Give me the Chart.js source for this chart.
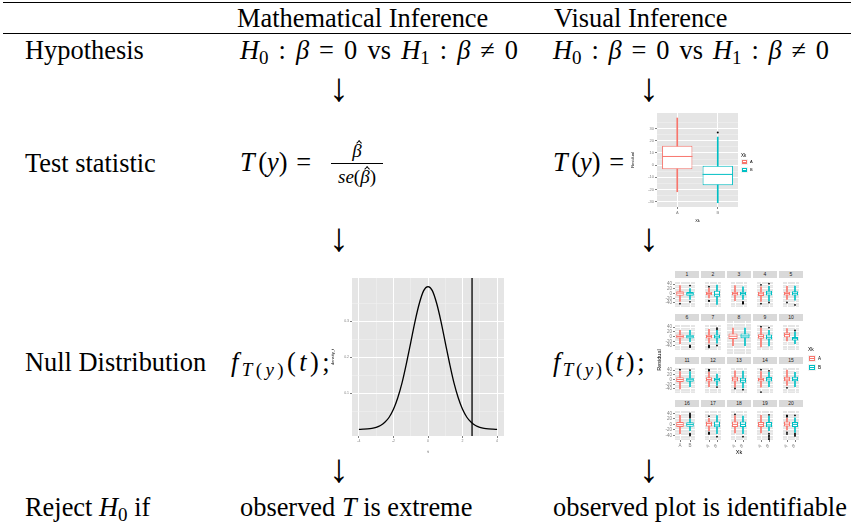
<!DOCTYPE html>
<html><head><meta charset="utf-8">
<script src="https://cdn.jsdelivr.net/npm/chart.js"></script>
<style>
html,body{margin:0;padding:0;background:#fff}
#page{position:relative;width:851px;height:531px;overflow:hidden;font-family:"Liberation Serif","Times New Roman",serif;color:#000}
.t{position:absolute;font-size:26.4px;line-height:1;white-space:nowrap}
.i{font-style:italic}
.sub{font-size:0.72em;position:relative;top:0.28em;line-height:0}
.op{margin:0 0.24em}
.sp{display:inline-block;width:0.25em}
.rule{position:absolute;left:3px;width:848px;height:1px;background:#000}
.arrow{position:absolute;font-size:40px;line-height:1;transform:translateX(-50%);font-family:"Liberation Serif",serif}
canvas{position:absolute}
.strip{position:absolute;background:#d9d9d9;font-family:"Liberation Sans",Arial,sans-serif;font-size:5px;line-height:7px;height:7px;color:#1a1a1a;text-align:center}
.hat{position:relative;display:inline-block}
.hat .h{position:absolute;left:0.26em;top:0.02em;width:0.17em;height:0.17em;border-left:1px solid #000;border-top:1px solid #000;transform:rotate(45deg)}
.key{position:absolute;background:#f2f2f2}
.key .bx{position:absolute;background:#fff;border:1px solid}
.key .md{position:absolute;height:1px}
.lbl{position:absolute;font-family:"Liberation Sans",Arial,sans-serif;line-height:1;white-space:nowrap;color:#000}
</style></head>
<body>
<div id="page">
<div class="rule" style="top:2px"></div>
<div class="rule" style="top:33px"></div>

<div class="t" style="left:237px;top:5px">Mathematical Inference</div>
<div class="t" style="left:554px;top:5px">Visual Inference</div>

<div class="t" style="left:25px;top:37px">Hypothesis</div>
<div class="t fit" data-w="278" style="left:240px;top:37px"><span class="i">H</span><span class="sub">0</span><span class="op">:</span><span class="i">β</span><span class="op">=</span>0<span class="sp"></span>vs<span class="sp"></span><span class="i">H</span><span class="sub">1</span><span class="op">:</span><span class="i">β</span><span class="op">≠</span>0</div>
<div class="t fit" data-w="276" style="left:553px;top:37px"><span class="i">H</span><span class="sub">0</span><span class="op">:</span><span class="i">β</span><span class="op">=</span>0<span class="sp"></span>vs<span class="sp"></span><span class="i">H</span><span class="sub">1</span><span class="op">:</span><span class="i">β</span><span class="op">≠</span>0</div>

<div class="arrow" style="left:339px;top:68px">↓</div>
<div class="arrow" style="left:649px;top:68px">↓</div>

<div class="t" style="left:25px;top:150px">Test statistic</div>
<div class="t fit" data-w="80" style="left:240px;top:149px"><span class="i">T</span><span class="sp" style="width:1px"></span>(<span class="i">y</span>)<span class="op">=</span></div>
<div class="t" style="left:331px;top:141px;width:52px;text-align:center;font-size:19px"><span class="hat i">β<span class="h"></span></span></div>
<div style="position:absolute;left:331px;top:163px;width:52px;height:1px;background:#000"></div>
<div class="t" style="left:331px;top:167px;width:52px;text-align:center;font-size:19px"><span class="i">se</span>(<span class="hat i">β<span class="h"></span></span>)</div>
<div class="t fit" data-w="80" style="left:553px;top:149px"><span class="i">T</span><span class="sp" style="width:1px"></span>(<span class="i">y</span>)<span class="op">=</span></div>

<div class="arrow" style="left:339px;top:218px">↓</div>
<div class="arrow" style="left:649px;top:218px">↓</div>

<div class="t" style="left:25px;top:349px">Null Distribution</div>
<div class="t lsfit" data-w="102" style="left:231px;top:349px"><span class="i">f</span><span class="sub"><span class="i">T</span>(<span class="i">y</span>)</span>(<span class="i">t</span>);</div>
<div class="t lsfit" data-w="94" style="left:553px;top:349px"><span class="i">f</span><span class="sub"><span class="i">T</span>(<span class="i">y</span>)</span>(<span class="i">t</span>);</div>

<div class="arrow" style="left:339px;top:449px">↓</div>
<div class="arrow" style="left:649px;top:449px">↓</div>

<div class="t" style="left:25px;top:494px">Reject <span class="i">H</span><span class="sub">0</span> if</div>
<div class="t" style="left:240px;top:494px">observed <span class="i">T</span> is extreme</div>
<div class="t" style="left:553px;top:494px">observed plot is identifiable</div>
</div>

<script>
// ---------------- data ----------------
// null distribution curve
const densityX = [-4,-3.75,-3.5,-3.25,-3,-2.75,-2.5,-2.25,-2,-1.75,-1.5,-1.25,-1,-0.75,-0.5,-0.25,0,0.25,0.5,0.75,1,1.25,1.5,1.75,2,2.25,2.5,2.75,3,3.25,3.5,3.75,4];
const densityY = [0.0004,0.0008,0.0015,0.003,0.006,0.011,0.02,0.034,0.056,0.088,0.13,0.183,0.241,0.3,0.35,0.385,0.396,0.385,0.35,0.3,0.241,0.183,0.13,0.088,0.056,0.034,0.02,0.011,0.006,0.003,0.0015,0.0008,0.0004];
const observedT = 2.55;
const densityXRange = [-4.4, 4.4];
const densityYRange = [-0.018, 0.42];
const densityXTicks = [-4,-3,-2,-1,0,1,2,3,4];
const densityYTicks = [0.05,0.1,0.15,0.2,0.25,0.3,0.35];

// observed boxplot (test statistic)
const groups = ['A','B'];
const obsLow  = [-21.8, -30.8];
const obsQ1   = [-3.3, -16.4];
const obsMed  = [7.1, -7.6];
const obsQ3   = [15.9, 0.0];
const obsHigh = [38.6, 23.0];
const obsOutA = [];
const obsOutB = [26.8];
const obsYRange = [-34.3, 42.7];
const obsYTicks = [-30,-25,-20,-15,-10,-5,0,5,10,15,20,25,30,35];

// lineup of 20 panels
const panelIds = ['1','2','3','4','5','6','7','8','9','10','11','12','13','14','15','16','17','18','19','20'];
const aLow  = [-33,-19,-30,-33,-25,-30,-28,-30,-44,-19,-40,-30,-32,-32,-25,-34,-23,-31,-31,-20];
const aQ1   = [-9,-7.5,-8.5,-10.7,-8.5,-8.5,-8.5,-8.5,-9.6,-3,-10.7,-8.5,-8.5,-8.5,-7.5,-9.6,-7.5,-9.6,-9.6,-7.5];
const aMed  = [2,0,0,-1,0,0,0,0,0,8.5,0,0,2,0,2,-1,3,0,-1,1];
const aQ3   = [10,7.5,7.5,7.5,7.5,8.5,7.5,8.5,9.6,17,9.6,9.6,12,7.5,12,8.5,10.7,10.7,8.5,10.7];
const aHigh = [34,23,34,29,31,26,31,26,36,34,34,31,37,34,40,33,22,32,33,22];
const aOut  = [[-43],[29,-30,-32],[],[37,-43],[-38],[],[-38,-42,-46],[],[42],[],[42],[37,40,42],[-38],[42,-53],[-35],[],[30,-29,-32,-35],[37],[],[28,31,33,-29,-35]];
const bLow  = [-25,-46,-25,-31,-28,-22,-28,-30,-40,-30,-30,-25,-35,-30,-30,-23,-34,-34,-23,-29];
const bQ1   = [-9,-14,-8.5,-8.5,-8.5,-8.5,-8.5,-6.4,-12,-17,-9.6,-8.5,-14,-8.5,-7.5,-8.5,-10.7,-9.6,-10.7,-9.6];
const bMed  = [-1,-3,0,2,1,-1,-1,1,-3,-7.5,-1,0,-3,2,1,0,-2,0,-2,0];
const bQ3   = [7,12,7.5,12,9.6,7.5,8.5,8.5,8.5,0,7.5,7.5,7.5,10.7,12,7.5,10.7,10.7,8.5,8.5];
const bHigh = [21,36,29,31,32,26,26,26,26,20,34,23,36,31,31,19,32,30,30,24];
const bOut  = [[34,-35],[],[-35,-38,-41,-43],[42,-38],[-48],[-38,-41,-45],[36,31,-38],[],[38],[26],[40],[-32],[-43],[37],[],[24,28,32,36,40,-34,-37,-41],[-45],[-45],[35,-34,-40,-45,-50,-55],[33,-34,-38,-42]];
const lineupYRange = [-57, 49];
const lineupYTicks = [-50,-40,-30,-20,-10,0,10,20,30,40];

// ---------------- text width fitting (math spacing) ----------------
document.querySelectorAll('.fit').forEach(el => {
  const target = parseFloat(el.dataset.w);
  const w = el.getBoundingClientRect().width;
  const ops = el.querySelectorAll('.op'), sps = el.querySelectorAll('.sp');
  const slots = ops.length * 2 + sps.length;
  if (slots && target > w) {
    const add = (target - w) / slots;
    ops.forEach(o => { const m = parseFloat(getComputedStyle(o).marginLeft); o.style.margin = '0 ' + (m + add) + 'px'; });
    sps.forEach(s => { const ww = s.getBoundingClientRect().width; s.style.width = (ww + add) + 'px'; });
  }
});
document.querySelectorAll('.lsfit').forEach(el => {
  const target = parseFloat(el.dataset.w);
  const w = el.getBoundingClientRect().width;
  const n = el.textContent.length;
  if (n > 0 && target > w) el.style.letterSpacing = ((target - w) / n) + 'px';
});

// ---------------- styling ----------------
Chart.defaults.font.family = '"Liberation Sans", Arial, sans-serif';
Chart.defaults.color = '#7f7f7f';
const RED = '#F8766D', CYAN = '#00BFC4', PANEL = '#E5E5E5', MINOR = '#F2F2F2', GREY = '#7f7f7f';
const colors = [RED, CYAN];

const panelBg = { id:'panelBg', beforeDraw(chart){ const a = chart.chartArea, c = chart.ctx; c.save(); c.fillStyle = PANEL; c.fillRect(a.left, a.top, a.right - a.left, a.bottom - a.top); c.restore(); } };

function mk(left, top, w, h){
  const c = document.createElement('canvas');
  c.width = w; c.height = h;
  c.style.left = left + 'px'; c.style.top = top + 'px';
  c.style.width = w + 'px'; c.style.height = h + 'px';
  document.getElementById('page').appendChild(c);
  return c;
}
function txt(cls, html, left, top, size, extra){
  const d = document.createElement('div');
  d.className = cls; d.innerHTML = html;
  d.style.left = left + 'px'; d.style.top = top + 'px'; d.style.fontSize = size + 'px';
  if (extra) Object.assign(d.style, extra);
  document.getElementById('page').appendChild(d);
  return d;
}
function key(left, top, w, h, col){
  const k = document.createElement('div');
  k.className = 'key';
  Object.assign(k.style, {left:left+'px', top:top+'px', width:w+'px', height:h+'px'});
  const bx = document.createElement('div'); bx.className = 'bx';
  Object.assign(bx.style, {left:'1px', top:'1px', width:(w-4)+'px', height:(h-4)+'px', borderColor:col});
  const md = document.createElement('div'); md.className = 'md';
  Object.assign(md.style, {left:'1px', top:Math.floor(h/2)+'px', width:(w-2)+'px', background:col});
  k.appendChild(bx); k.appendChild(md);
  document.getElementById('page').appendChild(k);
}

// ---------------- density plot ----------------
const isEven = c => c.tick && c.tick.value % 2 === 0;
const isTenth = c => c.tick && Math.abs(c.tick.value*10 - Math.round(c.tick.value*10)) < 1e-6;
new Chart(mk(330, 272, 180, 182), {
  type: 'line',
  data: { datasets: [
    { data: densityX.map((x, i) => ({x, y: densityY[i]})), borderColor:'#000', borderWidth:1.3, pointRadius:0, cubicInterpolationMode:'monotone' },
    { data: [{x:observedT, y:densityYRange[0]}, {x:observedT, y:densityYRange[1]}], borderColor:'#000', borderWidth:1.3, pointRadius:0 }
  ]},
  options: {
    responsive:false, animation:false, events:[], devicePixelRatio:1,
    layout:{ padding:{ top:6, right:6, left:0, bottom:0 } },
    plugins:{ legend:{display:false}, tooltip:{enabled:false} },
    scales:{
      x:{ type:'linear', min:densityXRange[0], max:densityXRange[1],
        afterBuildTicks: s => { s.ticks = densityXTicks.map(v => ({value:v})); },
        afterFit: s => { s.height = 18; },
        grid:{ color: c => isEven(c) ? '#fff' : MINOR, lineWidth: c => isEven(c) ? 1 : 0.5,
               tickLength:2, tickColor: c => isEven(c) ? GREY : 'rgba(0,0,0,0)' },
        border:{display:false},
        ticks:{ font:{size:3.5}, padding:1, maxRotation:0, autoSkip:false, callback: v => (v % 2 === 0 ? String(v) : '') },
        title:{ display:true, text:'t', font:{size:4}, padding:0, color:'#000' } },
      y:{ type:'linear', min:densityYRange[0], max:densityYRange[1],
        afterBuildTicks: s => { s.ticks = densityYTicks.map(v => ({value:v})); },
        afterFit: s => { s.width = 22; },
        grid:{ color: c => isTenth(c) ? '#fff' : MINOR, lineWidth: c => isTenth(c) ? 1 : 0.5,
               tickLength:2, tickColor: c => isTenth(c) ? GREY : 'rgba(0,0,0,0)' },
        border:{display:false},
        ticks:{ font:{size:3.5}, padding:1, autoSkip:false, callback: v => (Math.abs(v*10 - Math.round(v*10)) < 1e-6 ? v.toFixed(1) : '') },
        title:{ display:true, text:'density_t', font:{size:4}, padding:0, color:'#000' } }
    }
  },
  plugins:[panelBg]
});

// ---------------- boxplot builder ----------------
function boxChart(canvas, o){
  const outliers = [...o.outA.map(y => ({x:'A', y})), ...o.outB.map(y => ({x:'B', y}))];
  const major = v => Math.abs(v % o.majorStep) < 1e-6;
  return new Chart(canvas, {
    type:'bar',
    data:{ labels: groups, datasets:[
      { type:'bar', data: o.low.map((l, i) => [l, o.high[i]]), backgroundColor: colors, borderWidth:0, barThickness: o.whisker, grouped:false, order:3 },
      { type:'bar', data: o.q1.map((q, i) => [q, o.q3[i]]), backgroundColor:'#fff', borderColor: colors, borderWidth: o.bw, borderSkipped:false, barPercentage:0.75, categoryPercentage:1, grouped:false, order:2 },
      { type:'line', data: o.med, showLine:false, pointStyle:'line', pointBorderColor: colors, pointBorderWidth: o.bw,
        pointRadius: c => c.chart.scales.x.width / groups.length * 0.75 / 2, order:1 },
      { type:'line', data: outliers, showLine:false, pointStyle:'circle', pointRadius:o.outR, pointBackgroundColor:'#000', pointBorderWidth:0, order:0 }
    ]},
    options:{
      responsive:false, animation:false, events:[], devicePixelRatio:1,
      layout:{ padding: o.pad },
      plugins:{ legend:{display:false}, tooltip:{enabled:false} },
      scales:{
        x:{ type:'category', offset:true,
          afterFit: s => { s.height = o.xH; },
          grid:{ color:'#fff', lineWidth:1, offset:false, drawTicks:o.showX, tickLength:2, tickColor:GREY },
          border:{display:false},
          ticks:{ display:o.showX, font:{size:o.fs}, padding:1, color:GREY },
          title:{ display: !!o.xTitle, text:o.xTitle || '', font:{size:o.fs}, padding:0, color:'#000' } },
        y:{ type:'linear', min:o.yr[0], max:o.yr[1],
          afterBuildTicks: s => { s.ticks = o.yt.map(v => ({value:v})); },
          afterFit: s => { s.width = o.yW; },
          grid:{ color: c => (c.tick && major(c.tick.value)) ? '#fff' : MINOR,
                 lineWidth: c => (c.tick && major(c.tick.value)) ? 1 : 0.5,
                 drawTicks:o.showY, tickLength:2,
                 tickColor: c => (c.tick && major(c.tick.value)) ? GREY : 'rgba(0,0,0,0)' },
          border:{display:false},
          ticks:{ display:o.showY, font:{size:o.fs}, padding:1, autoSkip:false, color:GREY,
                  callback: v => (major(v) ? String(v) : '') },
          title:{ display: !!o.yTitle, text:o.yTitle || '', font:{size:o.fs}, padding:0, color:'#000' } }
      }
    },
    plugins:[panelBg]
  });
}

// ---------------- observed boxplot ----------------
boxChart(mk(630, 108, 150, 115), {
  low:obsLow, q1:obsQ1, med:obsMed, q3:obsQ3, high:obsHigh, outA:obsOutA, outB:obsOutB,
  yr:obsYRange, yt:obsYTicks, majorStep:10, showX:true, showY:true, xH:16, yW:27,
  pad:{top:5, right:42, left:0, bottom:0}, fs:4, whisker:1, bw:1, outR:1,
  xTitle:'Xk', yTitle:'Residual'
});
txt('lbl', 'Xk', 741, 154, 4.5);
key(741, 159, 7, 6, RED);  txt('lbl', 'A', 750, 160, 4);
key(741, 167, 7, 6, CYAN); txt('lbl', 'B', 750, 168, 4);

// ---------------- lineup ----------------
const colLeft = [675, 701, 727, 753, 779];
const rowTop = [278, 321, 364, 407];
const PW = 24, PH = 33;
for (let p = 0; p < 20; p++){
  const c = p % 5, r = Math.floor(p / 5);
  const showY = c === 0, showX = r === 3;
  const yW = showY ? 20 : 0, xH = showX ? 9 : 0;
  boxChart(mk(colLeft[c] - yW, rowTop[r], PW + yW, PH + xH), {
    low:[aLow[p], bLow[p]], q1:[aQ1[p], bQ1[p]], med:[aMed[p], bMed[p]], q3:[aQ3[p], bQ3[p]], high:[aHigh[p], bHigh[p]],
    outA:aOut[p], outB:bOut[p], yr:lineupYRange, yt:lineupYTicks, majorStep:20,
    showX, showY, xH, yW, pad:{top:0, right:0, left:0, bottom:0}, fs:4.5, whisker:1, bw:1, outR:0.9
  });
  const s = document.createElement('div');
  s.className = 'strip'; s.textContent = panelIds[p];
  Object.assign(s.style, {left:colLeft[c]+'px', top:(rowTop[r]-7)+'px', width:PW+'px'});
  document.getElementById('page').appendChild(s);
}
txt('lbl', 'Residual', 660, 360, 5.5, {transform:'translate(-50%,-50%) rotate(-90deg)'});
txt('lbl', 'Xk', 739, 453, 5.5, {transform:'translate(-50%,-50%)'});
txt('lbl', 'Xk', 808, 347, 5);
key(808, 355, 8, 7, RED);  txt('lbl', 'A', 818, 356.5, 4.5);
key(808, 364, 8, 7, CYAN); txt('lbl', 'B', 818, 365.5, 4.5);
</script>
</body></html>
